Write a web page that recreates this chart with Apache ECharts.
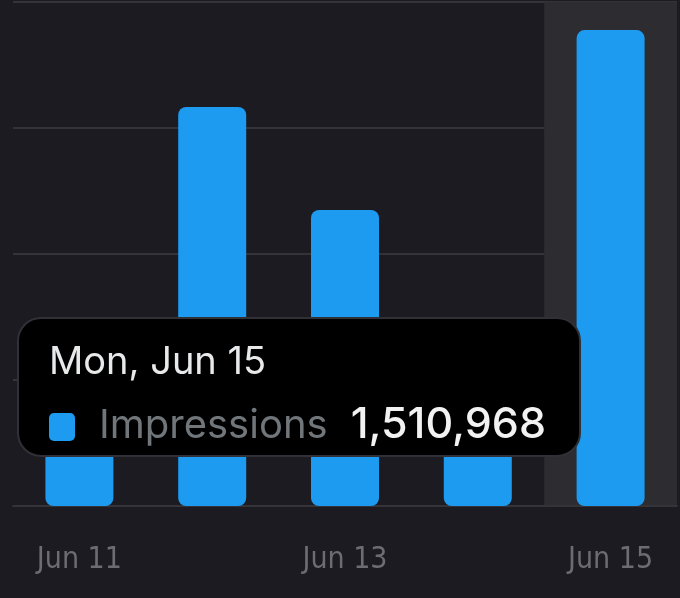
<!DOCTYPE html>
<html>
<head>
<meta charset="utf-8">
<script src="https://cdn.jsdelivr.net/npm/echarts@6/dist/echarts.min.js"></script>
<style>
  html, body { margin: 0; padding: 0; background: #1b1b21; }
  #chart { width: 680px; height: 598px; }
</style>
</head>
<body>
<div id="chart"></div>
<script>
var days = ["Jun 11", "Jun 12", "Jun 13", "Jun 14", "Jun 15"];
var weekdays = ["Thu", "Fri", "Sat", "Sun", "Mon"];
var impressions = [520000, 1267000, 940000, 480000, 1510968];
var yTicks = [0, 400000, 800000, 1200000, 1600000];

var chart = echarts.init(document.getElementById("chart"));

var option = {
    backgroundColor: "#1b1b21",
    animation: false,
    grid: { left: 13, right: 3, top: 2, bottom: 92 },
    tooltip: {
        trigger: "axis",
        alwaysShowContent: true,
        transitionDuration: 0,
        position: [17, 317],
        backgroundColor: "#000",
        borderColor: "#303036",
        borderWidth: 2,
        padding: 0,
        extraCssText: "border-radius:24px;box-shadow:none;",
        axisPointer: {
            type: "shadow",
            z: 0,
            shadowStyle: { color: "#2c2c31", opacity: 1 }
        },
        formatter: function (params) {
            var p = params[0];
            var i = p.dataIndex;
            return '<div style="width:560px;height:136px;box-sizing:border-box;padding:18px 0 0 30px;font-family:Inter,Roboto,sans-serif;">' +
                '<div style="color:#e7e9ea;font-size:38px;line-height:46px;">' + weekdays[i] + ", " + days[i] + '</div>' +
                '<div style="margin-top:16px;line-height:46px;white-space:nowrap;">' +
                '<span style="display:inline-block;width:26px;height:28px;border-radius:5px;background:#1d9bf0;vertical-align:-3px;"></span>' +
                '<span style="color:#71767b;font-size:40px;margin-left:24px;">Impressions</span>' +
                '<span style="color:#f2f2f2;font-size:43px;font-weight:500;margin-left:23px;">' + p.value.toLocaleString("en-US") + '</span>' +
                '</div></div>';
        }
    },
    xAxis: {
        type: "category",
        data: days,
        axisLine: { show: true, lineStyle: { color: "#333338", width: 2 } },
        axisTick: { show: false },
        axisLabel: {
            interval: 1,
            color: "#6c6c72",
            fontSize: 30,
            fontFamily: "'Liberation Sans Narrow', 'DejaVu Sans Condensed', Roboto, sans-serif",
            margin: 39
        }
    },
    yAxis: {
        type: "value",
        min: 0,
        max: yTicks[yTicks.length - 1],
        interval: yTicks[1] - yTicks[0],
        axisLabel: { show: false },
        axisLine: { show: false },
        axisTick: { show: false },
        splitLine: { lineStyle: { color: "#333338", width: 2 } }
    },
    series: [{
        name: "Impressions",
        type: "bar",
        z: 10,
        data: impressions,
        barWidth: 68,
        itemStyle: { color: "#1d9bf0", borderRadius: 8 },
        emphasis: { disabled: true }
    }]
};

chart.setOption(option);
chart.dispatchAction({ type: "showTip", seriesIndex: 0, dataIndex: 4 });
</script>
</body>
</html>
